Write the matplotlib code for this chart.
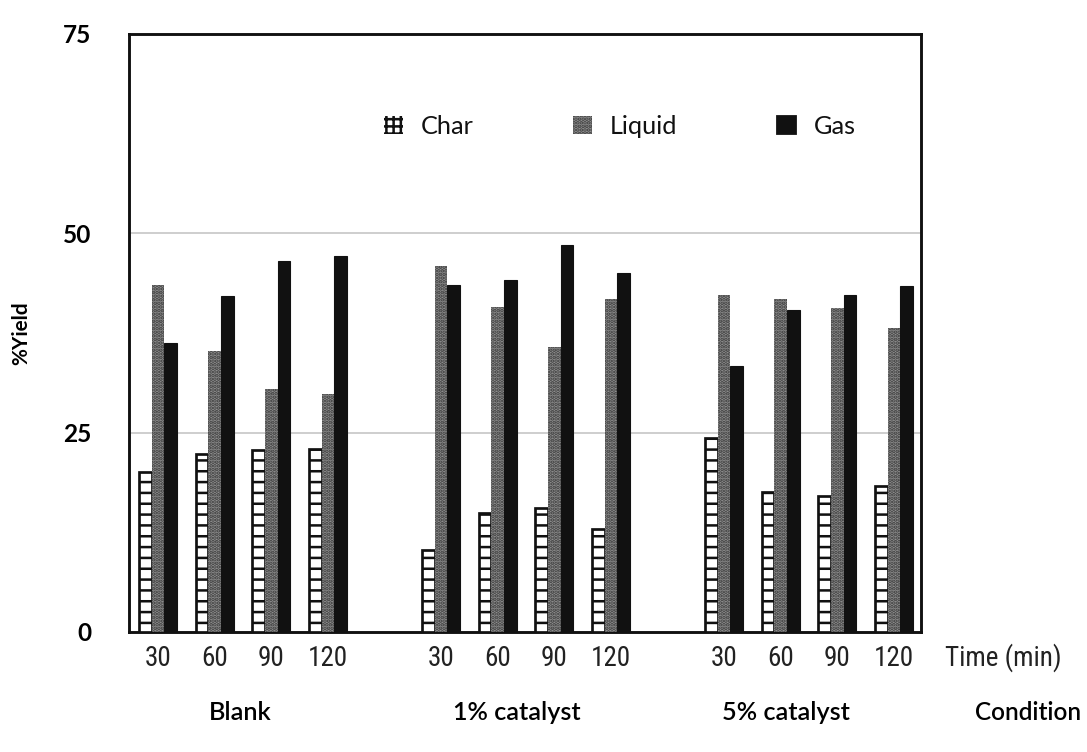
import matplotlib
matplotlib.use("Agg")
import matplotlib.pyplot as plt
from matplotlib import font_manager
from matplotlib.patches import Patch
import numpy as np

# Yield data (%), each condition sampled at 30/60/90/120 min
conditions = ["Blank", "1% catalyst", "5% catalyst"]
times = ["30", "60", "90", "120"]
char = [20.1, 22.3, 22.8, 22.9,
        10.3, 14.9, 15.5, 12.9,
        24.3, 17.5, 17.0, 18.3]
liquid = [43.5, 35.3, 30.5, 29.9,
          45.9, 40.8, 35.8, 41.8,
          42.3, 41.8, 40.6, 38.1]
gas = [36.3, 42.2, 46.5, 47.1,
       43.5, 44.1, 48.5, 45.0,
       33.3, 40.4, 42.3, 43.4]


def pick_font(names):
    available = {f.name for f in font_manager.fontManager.ttflist}
    for n in names:
        if n in available:
            return n
    return "DejaVu Sans"


narrow = pick_font(["Liberation Sans Narrow", "DejaVu Sans Condensed", "Roboto Condensed", "Noto Sans"])
body = pick_font(["Lato", "Open Sans", "DejaVu Sans"])

DPI = 130
plt.rcParams["hatch.linewidth"] = 1.4
fig = plt.figure(figsize=(1087 / DPI, 752 / DPI), dpi=DPI)
ax = fig.add_axes([0.1187, 0.1596, 0.7286, 0.7952])

# slot positions: four time points per condition, one empty slot between conditions
pos = []
for g in range(len(conditions)):
    for t in range(len(times)):
        pos.append(g * (len(times) + 1) + t)
pos = np.array(pos, dtype=float)
w = 0.223

ax.bar(pos - w, char, w, facecolor="white", edgecolor="#111111", linewidth=1.5,
       hatch="--", zorder=3)
ax.bar(pos, liquid, w, facecolor="#8e8e8e", edgecolor="#3c3c3c", linewidth=0,
       hatch="......", zorder=3)
ax.bar(pos + w, gas, w, facecolor="#111111", edgecolor="#111111", linewidth=0.6,
       zorder=3)

ax.set_ylim(0, 75)
ax.set_xlim(-0.512, 13.477)
ax.set_yticks([0, 25, 50, 75])
ax.set_yticklabels(["0", "25", "50", "75"], fontfamily=body, fontweight="bold",
                   fontsize=13.5)
ax.tick_params(axis="y", length=0, pad=21)
ax.set_xticks(pos)
ax.set_xticklabels(times * len(conditions), fontfamily=narrow, fontsize=15,
                   color="#222222")
ax.tick_params(axis="x", length=0, pad=7)

for y in (25, 50):
    ax.axhline(y, color="#c4c4c4", linewidth=0.9, zorder=1)

for s in ax.spines.values():
    s.set_linewidth(1.6)
    s.set_color("#111111")

ax.set_ylabel("%Yield", fontfamily=body, fontweight="bold", fontsize=11.5)
ax.yaxis.set_label_coords(-0.124, 0.5)

# condition names along the bottom row
cond_x = [0.140, 0.490, 0.8295]
for name, cx in zip(conditions, cond_x):
    ax.text(cx, -0.134, name, transform=ax.transAxes, ha="center", va="center",
            fontfamily=body, fontweight="semibold", fontsize=14)
ax.text(1.030, -0.0425, "Time (min)", transform=ax.transAxes, ha="left",
        va="center", fontfamily=narrow, fontsize=15, color="#222222")
ax.text(1.068, -0.134, "Condition", transform=ax.transAxes, ha="left",
        va="center", fontfamily=body, fontweight="semibold", fontsize=13.5)

handles = [
    Patch(facecolor="white", edgecolor="#111111", hatch="+++", linewidth=0),
    Patch(facecolor="#8e8e8e", edgecolor="#3c3c3c", hatch="......", linewidth=0),
    Patch(facecolor="#111111", edgecolor="#111111"),
]
ax.legend(handles, ["Char", "Liquid", "Gas"], loc="center", bbox_to_anchor=(0.62, 0.846),
          ncol=3, frameon=False, handlelength=0.75, handleheight=0.75,
          handletextpad=0.7, columnspacing=3.95,
          prop={"family": body, "weight": "normal", "size": 14})
for t in ax.get_legend().get_texts():
    t.set_color("#111111")

fig.savefig("out.png", dpi=DPI)
